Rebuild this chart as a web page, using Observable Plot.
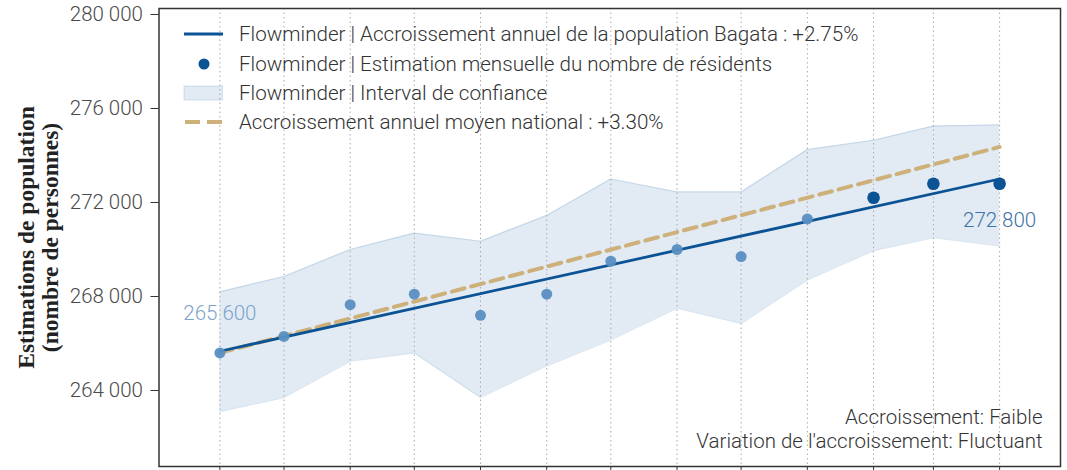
<!DOCTYPE html>
<html>
<head>
<meta charset="utf-8">
<script src="https://cdn.jsdelivr.net/npm/d3@7"></script>
<script src="https://cdn.jsdelivr.net/npm/@observablehq/plot@0.6"></script>
<style>
  body { margin: 0; background: #fff; }
  #wrap { position: relative; width: 1067px; height: 470px; overflow: hidden; font-family: Roboto, "Noto Sans", sans-serif; font-weight: 300; }
  #wrap svg { display: block; }
  .legend { position: absolute; left: 183px; top: 19.5px; color: #333; font-size: 20.6px; }
  .legend .row { display: flex; align-items: center; height: 29.4px; white-space: nowrap; }
  .legend svg { width: 40px; height: 18px; margin-right: 16px; flex: none; }
</style>
</head>
<body>
<div id="wrap"></div>
<script>
// ---- data ----
const months = ["2022-04-01","2022-05-01","2022-06-01","2022-07-01","2022-08-01","2022-09-01","2022-10-01",
                "2022-11-01","2022-12-01","2023-01-01","2023-02-01","2023-03-01","2023-04-01"];
const estimates = [265600, 266300, 267650, 268100, 267200, 268100, 269500, 270000, 269700, 271300, 272200, 272800, 272800];
const ciLower   = [263100, 263700, 265250, 265600, 263700, 265050, 266150, 267500, 266850, 268700, 269950, 270500, 270150];
const ciUpper   = [268200, 268850, 270000, 270700, 270350, 271450, 273000, 272450, 272450, 274250, 274650, 275250, 275300];
const recent    = [false, false, false, false, false, false, false, false, false, false, true, true, true];
const trendValues    = [265670, 273000];   // Bagata +2.75%
const nationalValues = [265600, 274365];   // national +3.30%
const yTicks = [264000, 268000, 272000, 276000, 280000];
const legendLabels = [
  "Flowminder | Accroissement annuel de la population Bagata : +2.75%",
  "Flowminder | Estimation mensuelle du nombre de résidents",
  "Flowminder | Interval de confiance",
  "Accroissement annuel moyen national : +3.30%"
];
const yTitle = "Estimations de population\n(nombre de personnes)";
const noteText = "Accroissement: Faible\nVariation de l'accroissement: Fluctuant";

// ---- build ----
const dates = months.map(m => new Date(m + "T00:00:00Z"));
const rows = dates.map((d, i) => ({date: d, est: estimates[i], lo: ciLower[i], hi: ciUpper[i], recent: recent[i]}));
const endDates = [dates[0], dates[dates.length - 1]];
const trend = endDates.map((d, i) => ({date: d, v: trendValues[i]}));
const national = endDates.map((d, i) => ({date: d, v: nationalValues[i]}));
const fmt = d3.formatLocale({thousands: " ", grouping: [3], decimal: ",", currency: ["", ""]}).format(",d");

const cBlue = "#0b5394", cLight = "#5a8fc2", cBand = "#6c9bc8", cTan = "#cdb07a";

const chart = Plot.plot({
  width: 1067,
  height: 470,
  marginLeft: 158.5,
  marginRight: 7,
  marginTop: 8,
  marginBottom: 4,
  style: {fontFamily: "Roboto, 'Noto Sans', sans-serif", fontWeight: 300, background: "#fff"},
  x: {type: "utc", domain: [new Date("2022-03-03T12:00:00Z"), new Date("2023-04-29T12:00:00Z")], axis: null},
  y: {domain: [260766, 280255], axis: null},
  marks: [
    Plot.areaY(rows, {x: "date", y1: "lo", y2: "hi", fill: cBand, fillOpacity: 0.2}),
    Plot.lineY(rows, {x: "date", y: "hi", stroke: cBand, strokeOpacity: 0.25, strokeWidth: 1.2}),
    Plot.lineY(rows, {x: "date", y: "lo", stroke: cBand, strokeOpacity: 0.25, strokeWidth: 1.2}),
    Plot.ruleX(dates, {stroke: "#aaa", strokeDasharray: "1.5,3", strokeWidth: 1}),
    Plot.lineY(national, {x: "date", y: "v", stroke: cTan, strokeWidth: 4, strokeDasharray: "13,7"}),
    Plot.lineY(trend, {x: "date", y: "v", stroke: cBlue, strokeWidth: 2.8}),
    Plot.dot(rows.filter(d => !d.recent), {x: "date", y: "est", r: 5.5, fill: cLight, fillOpacity: 0.95}),
    Plot.dot(rows.filter(d => d.recent), {x: "date", y: "est", r: 6.3, fill: cBlue}),
    Plot.text([rows[0]], {x: "date", y: "est", text: d => fmt(d.est), dy: -39, fill: "#7ba3cb", fontSize: 20.5, fontWeight: 300}),
    Plot.text([rows[rows.length - 1]], {x: "date", y: "est", text: d => fmt(d.est), dy: 37, fill: "#3e72a8", fontSize: 20.5, fontWeight: 300}),
    Plot.text([noteText], {frameAnchor: "bottom-right", text: d => d, dx: -18, dy: -19, textAnchor: "end", lineAnchor: "bottom", lineHeight: 1.17, fontSize: 20.5, fill: "#333", fontWeight: 300}),
    Plot.frame({stroke: "#333", strokeWidth: 1.5}),
    Plot.axisY({ticks: yTicks, tickFormat: fmt, tickSize: 8, tickPadding: 8, fontSize: 20.5, label: null, color: "#4a4a4a", stroke: "#333"}),
    Plot.axisX({ticks: dates, tickSize: 4, tickFormat: () => "", label: null, stroke: "#333"}),
    Plot.text([yTitle], {frameAnchor: "left", text: d => d, rotate: -90, dx: -121, textAnchor: "middle", lineAnchor: "middle", lineHeight: 1.02, fontSize: 23.5, fontWeight: "bold", fontFamily: "'Liberation Serif', 'DejaVu Serif', serif", fill: "#222"})
  ]
});

const wrap = document.getElementById("wrap");
wrap.appendChild(chart);

// legend overlay
const symbols = [
  `<svg viewBox="0 0 40 18"><line x1="1" x2="40" y1="9" y2="9" stroke="${cBlue}" stroke-width="3"/></svg>`,
  `<svg viewBox="0 0 40 18"><circle cx="21" cy="9" r="5.5" fill="${cBlue}"/></svg>`,
  `<svg viewBox="0 0 40 18"><rect x="1" y="2" width="39" height="14" fill="${cBand}" fill-opacity="0.2" stroke="${cBand}" stroke-opacity="0.25"/></svg>`,
  `<svg viewBox="0 0 40 18"><line x1="2" x2="40" y1="9" y2="9" stroke="${cTan}" stroke-width="4" stroke-dasharray="15,7"/></svg>`
];
const legend = document.createElement("div");
legend.className = "legend";
legend.innerHTML = legendLabels.map((t, i) => `<div class="row">${symbols[i]}<span>${t}</span></div>`).join("");
wrap.appendChild(legend);
</script>
</body>
</html>
